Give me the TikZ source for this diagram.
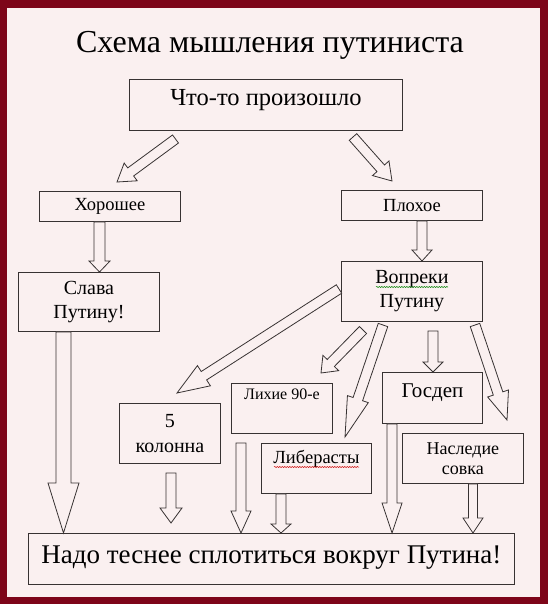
\documentclass[tikz,border=0pt]{standalone}
\usepackage{fontspec}
\setmainfont{Liberation Serif}
\usetikzlibrary{calc, decorations.pathmorphing}

\definecolor{frame}{RGB}{125,5,25}
\definecolor{paper}{RGB}{250,240,240}
\definecolor{edge}{RGB}{55,50,50}

% hollow block arrow: tail, tip, half shaft, half head, head length
\newcommand{\hollowarrow}[5]{%
  \coordinate (hb) at ($(#2)!#5!(#1)$);
  \draw[blockarrow] ($(#1)!#3!90:(#2)$) -- ($(hb)!#3!90:(#2)$) -- ($(hb)!#4!90:(#2)$) -- (#2)
    -- ($(hb)!#4!-90:(#2)$) -- ($(hb)!#3!-90:(#2)$) -- ($(#1)!#3!-90:(#2)$) -- cycle;}

\begin{document}
\begin{tikzpicture}[
			x = 1pt, y = -1pt,
			box/.style = {draw = edge, fill = paper, line width = 0.9pt, inner sep = 0pt, align = center, anchor = north west},
			blockarrow/.style = {draw = edge, fill = paper, line width = 0.8pt, line join = miter},
			wavy/.style = {decorate, decoration = {snake, amplitude = 0.6pt, segment length = 2.5pt}, line width = 0.5pt}]
			\fill[frame] (0,0) rectangle (548,604);
			\fill[paper] (7,8) rectangle (540,597);

			\node[anchor = base, font = \fontsize{32}{36}\selectfont] (title) at (270,53) {Схема мышления путиниста};

			\node[box, minimum width = 273, text height = 26pt, text depth = 25pt, font = \fontsize{24.5}{28}\selectfont] (event) at (129,79) {Что-то произошло};
			\node[box, minimum width = 141, minimum height = 30, font = \fontsize{18.5}{21}\selectfont] (good) at (39,191) {Хорошее};
			\node[box, minimum width = 141, minimum height = 30, font = \fontsize{18.5}{21}\selectfont] (bad) at (341,190) {Плохое};
			\node[box, minimum width = 141, minimum height = 59, font = \fontsize{20}{24}\selectfont] (slava) at (18,272) {Слава\\Путину!};
			\node[box, minimum width = 141, minimum height = 60, font = \fontsize{20}{24}\selectfont] (despite) at (341,261) {Вопреки\\Путину};
			\node[box, minimum width = 101, minimum height = 60, font = \fontsize{20}{25}\selectfont] (fifth) at (119,403) {5\\колонна};
			\node[box, minimum width = 101, text height = 16pt, text depth = 34pt, font = \fontsize{16}{19}\selectfont] (nineties) at (231,383) {Лихие 90-е};
			\node[box, minimum width = 110, text height = 20pt, text depth = 30pt, font = \fontsize{18.5}{21}\selectfont] (liberals) at (261,443) {Либерасты};
			\node[box, minimum width = 100, text height = 25pt, text depth = 26pt, font = \fontsize{21}{24}\selectfont] (stated) at (382,372) {Госдеп};
			\node[box, minimum width = 121, minimum height = 50, font = \fontsize{18}{20}\selectfont] (legacy) at (402,433) {Наследие\\совка};
			\node[box, minimum width = 486, text height = 30pt, text depth = 21pt, font = \fontsize{27}{30}\selectfont] (rally) at (28,533) {Надо теснее сплотиться вокруг Путина!};

			% spell check lines
			\draw[wavy, green!50!black] (376,287) -- (448,287);
			\draw[wavy, red!80!black] (274,467) -- (359,467);

			% arrow ends
			\coordinate (t1) at (175.5,139); \coordinate (h1) at (117,182);
			\coordinate (t2) at (353,137);   \coordinate (h2) at (392,181);
			\coordinate (c3) at (99.5,0);
			\coordinate (c4) at (422,0);
			\coordinate (c5) at (63.5,0);
			\coordinate (t6) at (339,289);   \coordinate (h6) at (177,393);
			\coordinate (t7) at (363,330);   \coordinate (h7) at (321,373);
			\coordinate (t8) at (383,325);   \coordinate (h8) at (345,437);
			\coordinate (t9) at (433,331);
			\coordinate (t10) at (475,325);  \coordinate (h10) at (507,420);
			\coordinate (t11) at (171,473);  \coordinate (h11) at (171,523);
			\coordinate (t12) at (241,443);
			\coordinate (c13) at (281,0);
			\coordinate (c14) at (392,0);
			\coordinate (c15) at (473,0);

			\hollowarrow{t1}{h1}{5pt}{11pt}{17pt}
			\hollowarrow{t2}{h2}{5pt}{11pt}{17pt}
			\hollowarrow{good.south -| c3}{slava.north -| c3}{5.5pt}{10.5pt}{11pt}
			\hollowarrow{bad.south -| c4}{despite.north -| c4}{5pt}{10pt}{11pt}
			\hollowarrow{slava.south -| c5}{rally.north -| c5}{7.5pt}{15.5pt}{50pt}
			\hollowarrow{t6}{h6}{5pt}{12pt}{32pt}
			\hollowarrow{t7}{h7}{5pt}{11pt}{14pt}
			\hollowarrow{t8}{h8}{5pt}{11pt}{40pt}
			\hollowarrow{t9}{stated.north -| t9}{5pt}{10pt}{10pt}
			\hollowarrow{t10}{h10}{5pt}{11pt}{28pt}
			\hollowarrow{t11}{h11}{5pt}{11pt}{15pt}
			\hollowarrow{t12}{rally.north -| t12}{5pt}{10pt}{22pt}
			\hollowarrow{liberals.south -| c13}{rally.north -| c13}{5pt}{10pt}{9pt}
			\hollowarrow{stated.south -| c14}{rally.north -| c14}{5pt}{10pt}{30pt}
			\hollowarrow{legacy.south -| c15}{rally.north -| c15}{4.5pt}{10pt}{15pt}
		\end{tikzpicture}
\end{document}
